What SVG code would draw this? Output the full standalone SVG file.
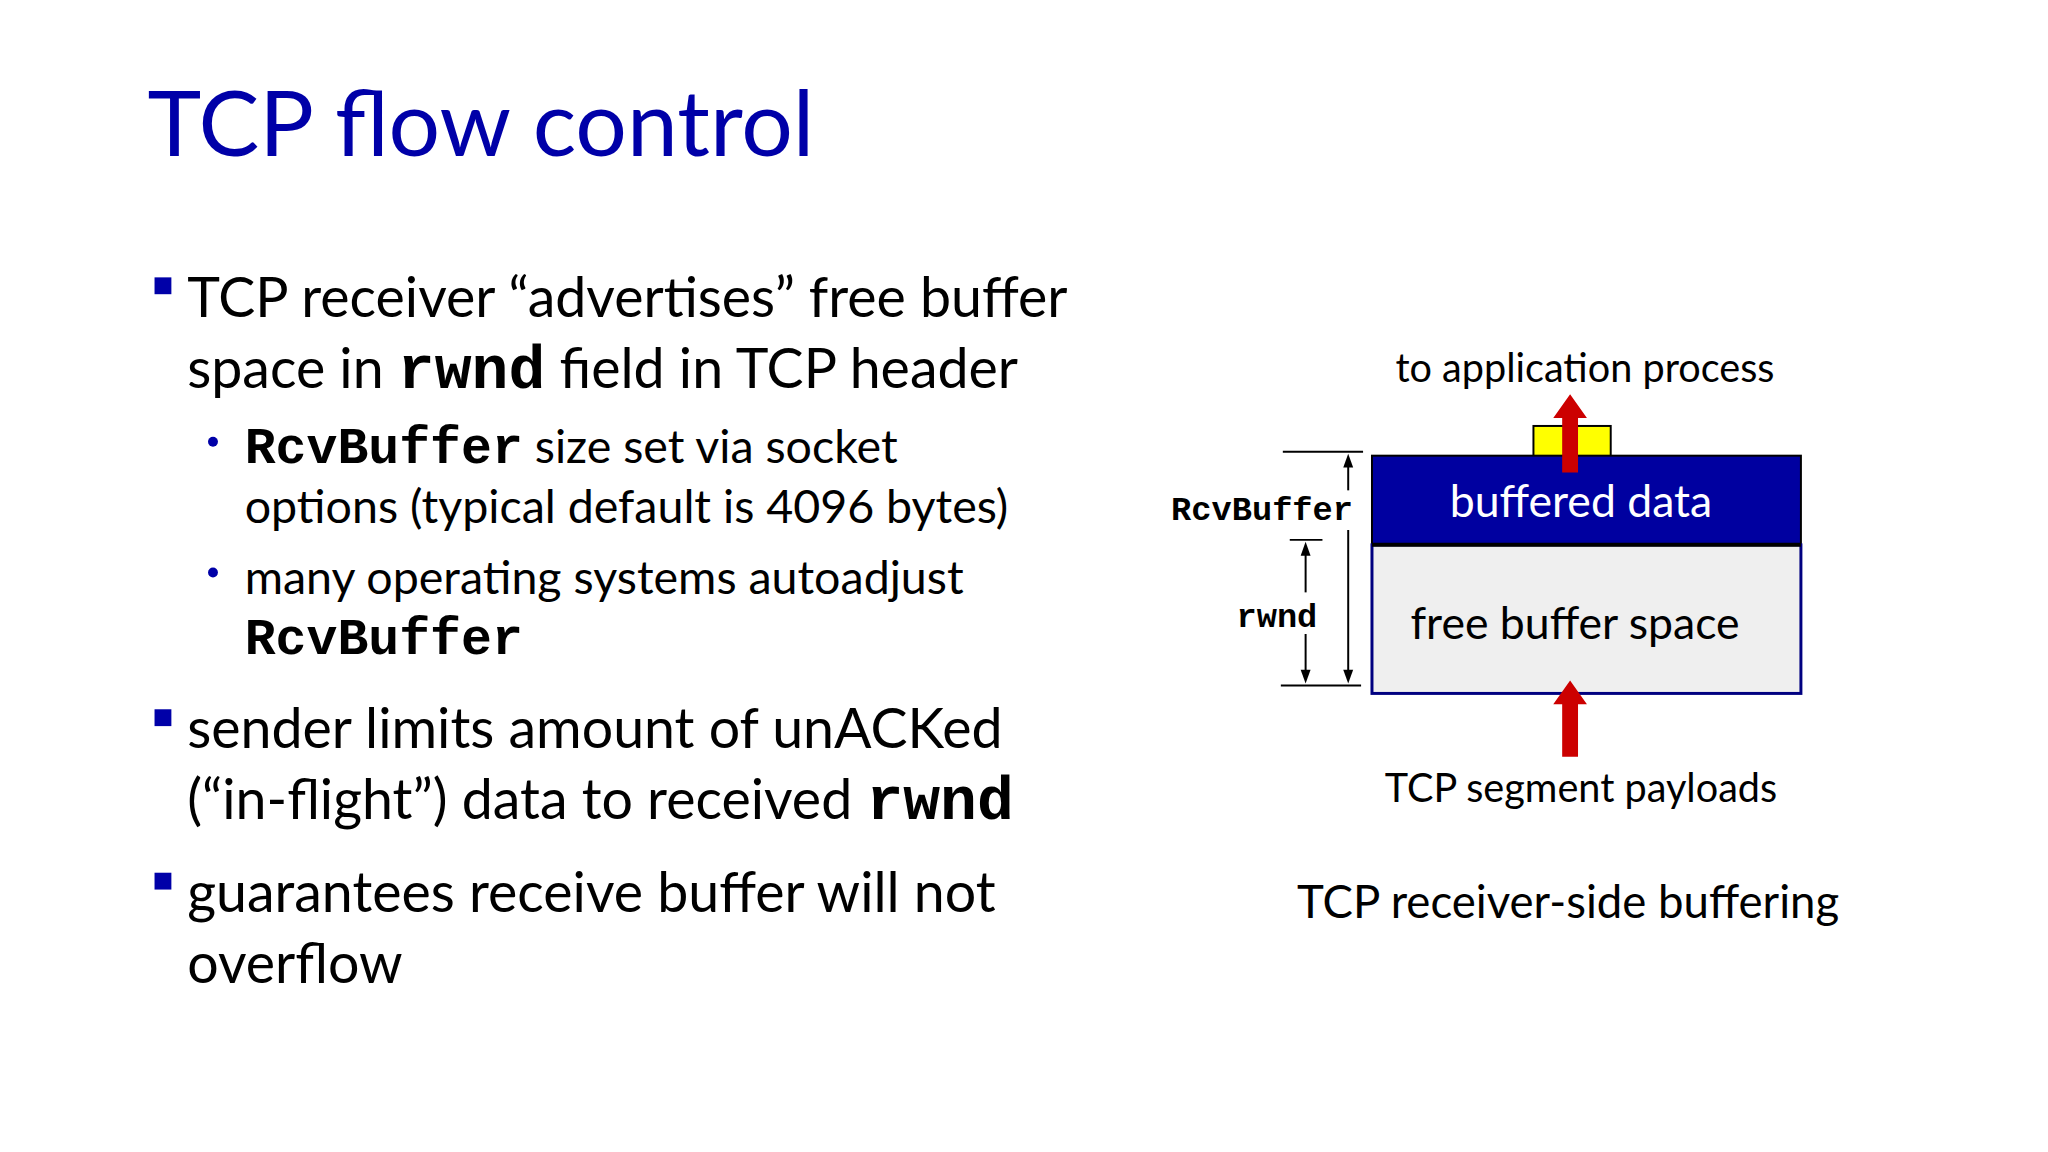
<svg xmlns="http://www.w3.org/2000/svg" width="2048" height="1152" viewBox="0 0 2048 1152">
<style>
.t{font-family:Lato,"Open Sans",sans-serif;fill:#000}
.m{font-family:"Liberation Mono","Courier New",monospace;font-weight:bold}
.b{font-size:56px}
.s{font-size:47px}
.d{font-size:40px}
.dim{stroke:#000;stroke-width:2;fill:none}
</style>
<rect width="2048" height="1152" fill="#fff"/>
<g transform="scale(0.9906)">
<text class="t" x="149" y="158" font-size="92" style="fill:#0000A8">TCP flow control</text>
<g id="bullets">
<rect x="156" y="280" width="17" height="17" fill="#0000A8"/>
<text class="t b" x="189" y="320">TCP receiver “advertises” free buffer</text>
<text class="t b" x="189" y="392">space in <tspan class="m" font-size="62">rwnd</tspan> field in TCP header</text>
<circle cx="215" cy="446" r="5" fill="#0000A8"/>
<text class="t s" x="247" y="467"><tspan class="m" font-size="52">RcvBuffer</tspan>  size set via socket</text>
<text class="t s" x="247" y="528">options (typical default is 4096 bytes)</text>
<circle cx="215" cy="578" r="5" fill="#0000A8"/>
<text class="t s" x="247" y="600">many operating systems autoadjust</text>
<text class="m" font-size="52" x="247" y="660">RcvBuffer</text>
<rect x="156" y="716" width="17" height="17" fill="#0000A8"/>
<text class="t b" x="189" y="755">sender limits amount of unACKed</text>
<text class="t b" x="189" y="827">(“in-flight”) data to received <tspan class="m" font-size="62">rwnd</tspan></text>
<rect x="156" y="881" width="17" height="17" fill="#0000A8"/>
<text class="t b" x="189" y="921">guarantees receive buffer will not</text>
<text class="t b" x="189" y="992">overflow</text>
</g>
<g id="buffer">
<rect x="1548" y="430" width="78" height="32" fill="#FFFF00" stroke="#000" stroke-width="2"/>
<rect x="1385" y="460" width="433" height="90" fill="#0000A0" stroke="#000" stroke-width="2"/>
<rect x="1385" y="550" width="433" height="150" fill="#EFEFEF" stroke="#000080" stroke-width="3"/>
<line x1="1385" y1="550" x2="1818" y2="550" stroke="#000" stroke-width="4"/>
<text class="t" x="1596" y="522" font-size="45" text-anchor="middle" style="fill:#fff">buffered data</text>
<text class="t" x="1590" y="645" font-size="45" text-anchor="middle">free buffer space</text>
</g>
<g id="labels">
<text class="t d" x="1600" y="386" text-anchor="middle">to application process</text>
<text class="t d" x="1596" y="810" text-anchor="middle">TCP segment payloads</text>
<text class="t" x="1583" y="927" font-size="46" text-anchor="middle">TCP receiver-side buffering</text>
<text class="m" x="1274" y="525" font-size="34" text-anchor="middle">RcvBuffer</text>
<text class="m" x="1289" y="633" font-size="34" text-anchor="middle">rwnd</text>
</g>
<g id="connectors">
<polygon points="1577,477 1593,477 1593,422 1602,422 1585,398 1568,422 1577,422" fill="#CC0000"/>
<polygon points="1577,764 1593,764 1593,711 1602,711 1585,687 1568,711 1577,711" fill="#CC0000"/>
<line class="dim" x1="1295" y1="456" x2="1376" y2="456" stroke-width="3"/>
<line class="dim" x1="1293" y1="692" x2="1374" y2="692" stroke-width="3"/>
<line class="dim" x1="1302" y1="545" x2="1335" y2="545" stroke-width="3"/>
<line class="dim" x1="1361" y1="470" x2="1361" y2="495"/>
<line class="dim" x1="1361" y1="535" x2="1361" y2="680"/>
<polygon points="1361,458 1356,472 1366,472"/>
<polygon points="1361,690 1356,676 1366,676"/>
<line class="dim" x1="1318" y1="558" x2="1318" y2="598"/>
<line class="dim" x1="1318" y1="640" x2="1318" y2="680"/>
<polygon points="1318,547 1313,561 1323,561"/>
<polygon points="1318,690 1313,676 1323,676"/>
</g>
</g>
</svg>
